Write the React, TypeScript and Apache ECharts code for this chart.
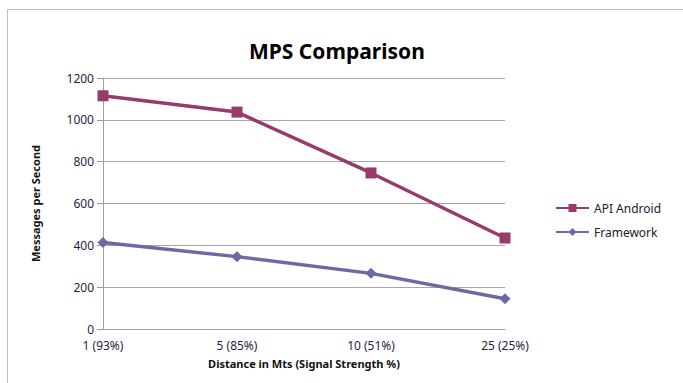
import React, { useEffect, useRef } from "react";
import * as echarts from "echarts";

const categories = ["1 (93%)", "5 (85%)", "10 (51%)", "25 (25%)"];
const apiAndroid = [1115, 1037, 746, 435];
const framework = [413, 346, 266, 145];
const yTicks = { min: 0, max: 1200, interval: 200 };

const FONT = "'Noto Sans', sans-serif";

export default function App() {
  const ref = useRef<HTMLDivElement>(null);
  useEffect(() => {
    if (!ref.current) return;
    const chart = echarts.init(ref.current, null, { renderer: "svg" });
    chart.setOption({
      animation: false,
      backgroundColor: "#ffffff",
      title: {
        text: "MPS Comparison",
        left: 244,
        top: 35,
        textStyle: { fontFamily: FONT, fontSize: 21, fontWeight: "bold", color: "#000" },
      },
      graphic: [
        { type: "line", shape: { x1: 7.5, y1: 9.5, x2: 683, y2: 9.5 }, style: { stroke: "#bdbdbd", lineWidth: 1 } },
        { type: "line", shape: { x1: 7.5, y1: 9.5, x2: 7.5, y2: 383 }, style: { stroke: "#bdbdbd", lineWidth: 1 } },
      ],
      legend: {
        orient: "vertical",
        left: 550,
        top: 197,
        itemWidth: 33,
        itemHeight: 10,
        itemGap: 12,
        textStyle: { fontFamily: FONT, fontSize: 12, color: "#222" },
        data: ["API Android", "Framework"],
      },
      grid: { left: 103, right: 178, top: 78, bottom: 54 },
      xAxis: {
        type: "category",
        data: categories,
        boundaryGap: false,
        name: "Distance in Mts (Signal Strength %)",
        nameLocation: "middle",
        nameGap: 29,
        nameTextStyle: { fontFamily: FONT, fontSize: 11, fontWeight: "bold", color: "#111" },
        axisLine: { lineStyle: { color: "#a0a0a0", width: 1 } },
        axisTick: { show: false },
        axisLabel: { fontFamily: FONT, fontSize: 12, lineHeight: 12, color: "#1f1f3f", margin: 10 },
      },
      yAxis: {
        type: "value",
        min: yTicks.min,
        max: yTicks.max,
        interval: yTicks.interval,
        name: "Messages per Second",
        nameLocation: "middle",
        nameGap: 62,
        nameTextStyle: { fontFamily: FONT, fontSize: 11, fontWeight: "bold", color: "#111" },
        axisLine: { show: true, lineStyle: { color: "#a0a0a0", width: 1 } },
        axisTick: { show: true, length: 6, lineStyle: { color: "#a0a0a0" } },
        axisLabel: {
          fontFamily: FONT,
          fontSize: 12,
          lineHeight: 12,
          color: "#1f1f3f",
          margin: 9,
          formatter: (v: number) => String(v),
        },
        splitLine: { lineStyle: { color: "#a6a6a6", width: 1 } },
      },
      series: [
        {
          name: "API Android",
          type: "line",
          data: apiAndroid,
          symbol: "rect",
          symbolSize: 11,
          color: "#983a6b",
          lineStyle: { width: 3.5, color: "#983a6b" },
          itemStyle: { color: "#983a6b" },
        },
        {
          name: "Framework",
          type: "line",
          data: framework,
          symbol: "diamond",
          symbolSize: 11,
          color: "#6a6aa8",
          lineStyle: { width: 3.5, color: "#6a6aa8" },
          itemStyle: { color: "#6a6aa8" },
        },
      ],
    });
    return () => chart.dispose();
  }, []);
  return <div ref={ref} style={{ position: "fixed", left: 0, top: 0, width: 683, height: 383 }} />;
}
